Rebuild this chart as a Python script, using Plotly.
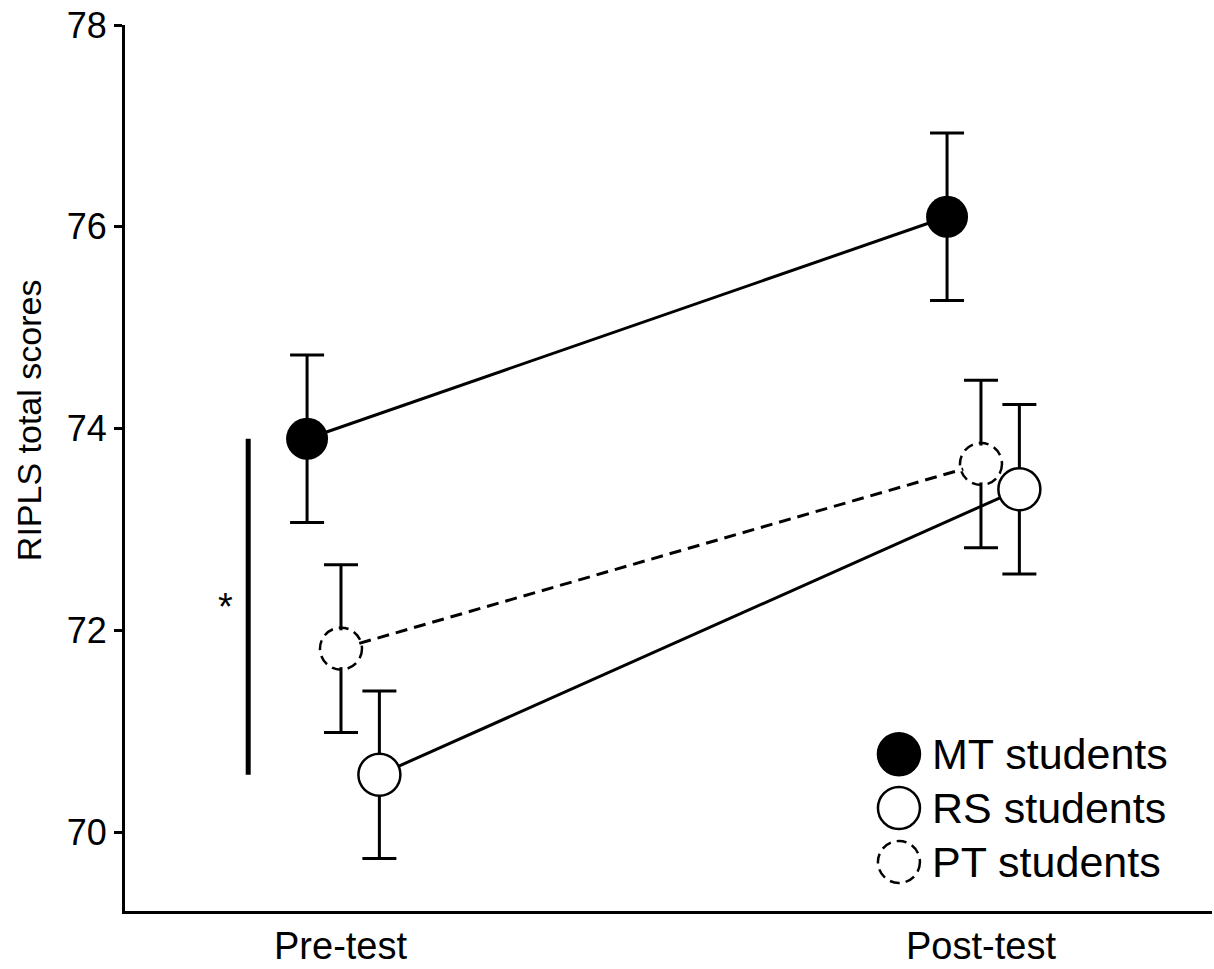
import plotly.graph_objects as go

# ---- data ----
categories = ["Pre-test", "Post-test"]
groups = ["MT students", "RS students", "PT students"]
mt_mean = [73.90, 76.10]
mt_err = [0.83, 0.83]
rs_mean = [70.57, 73.40]
rs_err = [0.83, 0.84]
pt_mean = [71.82, 73.65]
pt_err = [0.83, 0.83]
y_ticks = [70, 72, 74, 76, 78]
sig_label = "*"
y_title = "RIPLS total scores"

# ---- styling / layout constants ----
FONT = "Liberation Sans, Arial, sans-serif"
LW = 3
MSIZE = 42
dodge = {"MT students": -0.053, "RS students": 0.06, "PT students": 0.0}
xpos = list(range(len(categories)))


def xs(name):
    return [i + dodge[name] for i in xpos]


fig = go.Figure()

# MT students: solid line, filled black markers
fig.add_trace(go.Scatter(
    x=xs("MT students"), y=mt_mean, name="MT students", mode="lines+markers",
    line=dict(color="black", width=LW),
    marker=dict(size=MSIZE, color="black", line=dict(width=0)),
    error_y=dict(type="data", array=mt_err, color="black", thickness=LW, width=17),
    showlegend=False,
))
# PT students: dashed line, dashed open circle (outline drawn as shapes)
fig.add_trace(go.Scatter(
    x=xs("PT students"), y=pt_mean, name="PT students", mode="lines+markers",
    line=dict(color="black", width=LW, dash="12px,7px"),
    marker=dict(size=MSIZE - 5, color="white", line=dict(width=0)),
    error_y=dict(type="data", array=pt_err, color="black", thickness=LW, width=17),
    showlegend=False,
))
# RS students: solid line, open circles
fig.add_trace(go.Scatter(
    x=xs("RS students"), y=rs_mean, name="RS students", mode="lines+markers",
    line=dict(color="black", width=LW),
    marker=dict(size=MSIZE, color="white", line=dict(width=2.5, color="black")),
    error_y=dict(type="data", array=rs_err, color="black", thickness=LW, width=17),
    showlegend=False,
))

shapes = []
R = MSIZE / 2
# dashed circles for PT markers
for xv, yv in zip(xs("PT students"), pt_mean):
    shapes.append(dict(
        type="circle", xref="x", yref="y", xsizemode="pixel", ysizemode="pixel",
        xanchor=xv, yanchor=yv, x0=-R, x1=R, y0=-R, y1=R,
        line=dict(color="black", width=2.5, dash="10px,6px"),
        fillcolor="white", layer="between",
    ))

# significance bar between MT and RS at pre-test
sig_x = -0.145
shapes.append(dict(
    type="line", xref="x", yref="y", x0=sig_x, x1=sig_x,
    y0=rs_mean[0], y1=mt_mean[0], line=dict(color="black", width=5),
))

annotations = [dict(
    x=sig_x - 0.036, y=(mt_mean[0] + rs_mean[0]) / 2, xref="x", yref="y",
    text=sig_label, showarrow=False, font=dict(family=FONT, size=38, color="black"),
    xanchor="center", yanchor="middle",
)]

# category labels under the x axis
for xv, cat in zip(xpos, categories):
    annotations.append(dict(
        x=xv, y=-0.066, xref="x", yref="paper", text=cat, showarrow=False,
        xanchor="center", yanchor="bottom",
        font=dict(family=FONT, size=38, color="black"),
    ))

# y-axis title
annotations.append(dict(
    x=-0.0883, y=0.554, xref="paper", yref="paper", text=y_title, textangle=-90,
    showarrow=False, xanchor="center", yanchor="middle",
    font=dict(family=FONT, size=34, color="black"),
))

# custom legend (to show dashed circle)
leg_x_marker = 0.712
leg_x_text = 0.7406
leg_ys = [0.177, 0.1163, 0.0553]
leg_style = {
    "MT students": dict(fill="black", dash="solid"),
    "RS students": dict(fill="white", dash="solid"),
    "PT students": dict(fill="white", dash="10px,6px"),
}
for name, ly in zip(groups, leg_ys):
    st = leg_style[name]
    shapes.append(dict(
        type="circle", xref="paper", yref="paper", xsizemode="pixel", ysizemode="pixel",
        xanchor=leg_x_marker, yanchor=ly, x0=-R, x1=R, y0=-R, y1=R,
        line=dict(color="black", width=2.5, dash=st["dash"]),
        fillcolor=st["fill"], layer="above",
    ))
    annotations.append(dict(
        x=leg_x_text, y=ly, xref="paper", yref="paper", text=name, showarrow=False,
        xanchor="left", yanchor="middle", font=dict(family=FONT, size=43, color="black"),
    ))

fig.update_layout(
    width=1214, height=969,
    margin=dict(l=125, r=2, t=25, b=58),
    paper_bgcolor="white", plot_bgcolor="white",
    font=dict(family=FONT, color="black"),
    shapes=shapes, annotations=annotations,
    showlegend=False,
    hovermode=False,
    xaxis=dict(
        range=[-0.3375, 1.361], tickmode="array", tickvals=xpos,
        showticklabels=False,
        showline=True, linecolor="black", linewidth=LW, ticks="",
        showgrid=False, zeroline=False,
    ),
    yaxis=dict(
        range=[69.22, 78.0], tickmode="array", tickvals=y_ticks,
        showline=True, linecolor="black", linewidth=LW, ticks="outside",
        ticklen=8, tickwidth=LW, tickcolor="black",
        showgrid=False, zeroline=False, tickfont=dict(size=36, family=FONT, color="black"),
    ),
)

# remove the default page margin so the figure fills the window exactly
fig.write_html(
    "out.html",
    config={"displayModeBar": False},
    post_script="document.body.style.margin='0px';document.body.style.overflow='hidden';",
)
